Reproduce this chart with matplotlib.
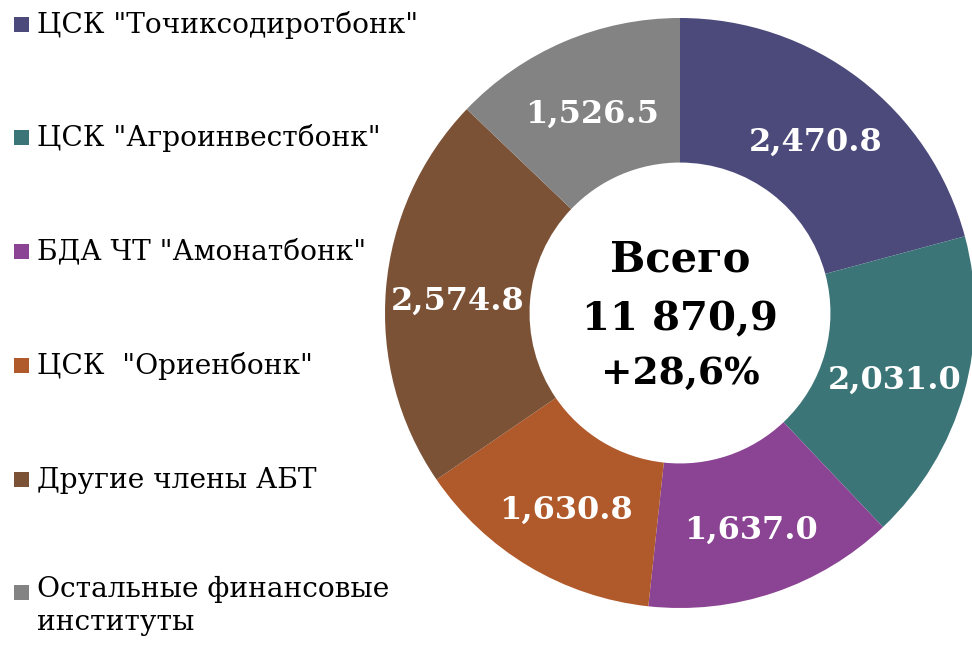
import matplotlib
matplotlib.use("Agg")
import matplotlib.pyplot as plt
from matplotlib.patches import Rectangle
import numpy as np

categories = ['ЦСК "Точиксодиротбонк"', 'ЦСК "Агроинвестбонк"', 'БДА ЧТ "Амонатбонк"',
              'ЦСК  "Ориенбонк"', 'Другие члены АБТ', 'Остальные финансовые\nинституты']
values = [2470.8, 2031.0, 1637.0, 1630.8, 2574.8, 1526.5]
colors = ['#4B4A7B', '#3C7577', '#8B4493', '#B0592A', '#7B5236', '#838383']
center_lines = ['Всего', '11 870,9', '+28,6%']

W, H = 972, 645
fig = plt.figure(figsize=(W/100, H/100), dpi=100)
cx, cy, R = 680, 313, 295
ax = fig.add_axes([(cx-R)/W, (H-cy-R)/H, 2*R/W, 2*R/H])
wedges, _ = ax.pie(values, colors=colors, startangle=90, counterclock=False,
                   radius=1.0, wedgeprops=dict(width=0.49, linewidth=0))
total = sum(values)
ang = 90.0
for v, w in zip(values, wedges):
    mid = ang - v/total*360/2
    ang -= v/total*360
    r = 0.755
    ax.text(r*np.cos(np.radians(mid)), r*np.sin(np.radians(mid)) - 0.022, f"{v:,.1f}",
            ha='center', va='center', color='white', fontsize=23, fontweight='bold',
            family='DejaVu Serif')
ax.set_xlim(-1, 1); ax.set_ylim(-1, 1)
ax.set_aspect('equal')
ax.axis('off')

ys = [0.18, -0.02, -0.205]
sizes = [30, 29, 27]
for t, y, s in zip(center_lines, ys, sizes):
    ax.text(0, y, t, ha='center', va='center', fontsize=s, fontweight='bold',
            family='DejaVu Serif', color='black')

leg_y = [25, 138, 252, 366, 480, 593]
for lab, c, y in zip(categories, colors, leg_y):
    fig.patches.append(Rectangle((14/W, (H-y-7)/H), 15/W, 15/H, transform=fig.transFigure,
                                 facecolor=c, edgecolor='none'))
    if '\n' in lab:
        fig.text(37/W, (H-y+17)/H, lab, ha='left', va='top',
                 fontsize=20.2, family='DejaVu Serif', color='black', linespacing=1.3)
    else:
        fig.text(37/W, (H-y)/H, lab, ha='left', va='center',
                 fontsize=20.2, family='DejaVu Serif', color='black')
fig.savefig('out.png', dpi=100)
